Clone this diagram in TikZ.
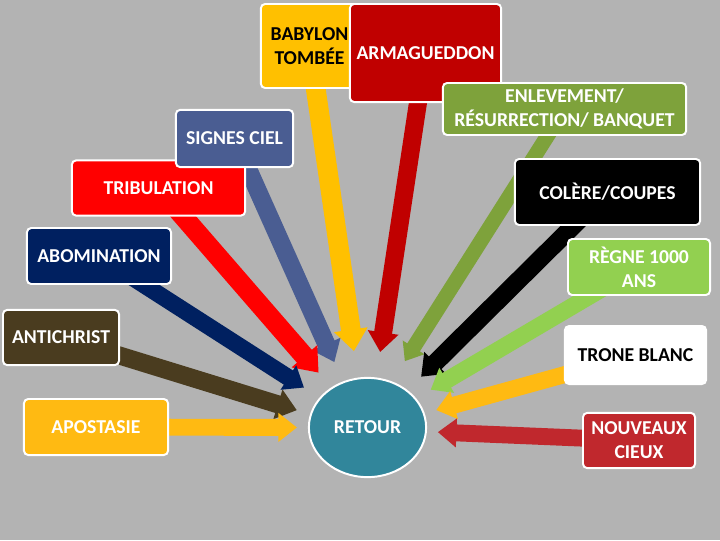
\documentclass[tikz,border=0pt]{standalone}
\usepackage{fontspec}
\setmainfont{Carlito}
\definecolor{fond}{HTML}{B3B3B3}
\definecolor{jaune}{HTML}{FFC000}
\definecolor{jauneor}{HTML}{FFBA12}
\definecolor{rougefonce}{HTML}{C00000}
\definecolor{rougevif}{HTML}{FF0000}
\definecolor{rougebrique}{HTML}{C0282D}
\definecolor{vertolive}{HTML}{7EA23B}
\definecolor{vertclair}{HTML}{92D050}
\definecolor{ardoise}{HTML}{4A5D92}
\definecolor{marine}{HTML}{002060}
\definecolor{brun}{HTML}{4A3C1F}
\definecolor{sarcelle}{HTML}{31869B}
\usetikzlibrary{arrows.meta, shapes.geometric}
\pgfdeclarelayer{bg}
\pgfdeclarelayer{fleches}
\pgfsetlayers{bg,fleches,main}
\tikzset{
  boite/.style={draw=white, line width=1.4pt, rounded corners=3pt, text=white,
    font=\bfseries\fontsize{14}{17}\selectfont, align=center, inner sep=2pt},
  fleche/.style={line width=#1, -{Triangle[length=0pt 1.1, width=0pt 1.65]}}
}

\begin{document}
\begin{tikzpicture}[x=0.025cm, y=-0.025cm]
  \useasboundingbox (0,0) rectangle (720,540);
  \begin{pgfonlayer}{bg}
    \fill[fond] (0,0) rectangle (720,540);
  \end{pgfonlayer}

  % boxes
  \node[boite, fill=jaune, text=black, minimum width=2.43cm, minimum height=2.1cm] (babylon) at (309.5,46) {BABYLON\\TOMBÉE};
  \node[boite, fill=rougefonce, minimum width=3.78cm, minimum height=2.45cm] (armag) at (425.5,53) {ARMAGUEDDON};
  \node[boite, fill=vertolive, minimum width=6.08cm, minimum height=1.3cm] (enlev) at (564.5,109) {ENLEVEMENT/\\RÉSURRECTION/ BANQUET};
  \node[boite, fill=rougevif, minimum width=4.33cm, minimum height=1.38cm] (tribul) at (158.5,188) {TRIBULATION};
  \node[boite, fill=ardoise, minimum width=2.93cm, minimum height=1.43cm] (signes) at (234.5,138.5) {SIGNES CIEL};
  \node[boite, fill=marine, minimum width=3.6cm, minimum height=1.4cm] (abomin) at (99,256) {ABOMINATION};
  \node[boite, fill=brun, minimum width=2.9cm, minimum height=1.38cm] (antichrist) at (61,337.5) {ANTICHRIST};
  \node[boite, fill=jauneor, minimum width=3.6cm, minimum height=1.4cm] (apostasie) at (96,427) {APOSTASIE};
  \node[boite, fill=black, minimum width=4.63cm, minimum height=1.65cm] (colere) at (607.5,192) {COLÈRE/COUPES};
  \node[boite, fill=vertclair, minimum width=3.55cm, minimum height=1.4cm] (regne) at (639,267) {RÈGNE 1000\\ANS};
  \node[boite, fill=white, text=black, minimum width=3.53cm, minimum height=1.45cm] (trone) at (635.5,355) {TRONE BLANC};
  \node[boite, fill=rougebrique, minimum width=2.8cm, minimum height=1.38cm] (nouveaux) at (639,440.5) {NOUVEAUX\\CIEUX};
  \node[boite, ellipse, fill=sarcelle, minimum width=2.93cm, minimum height=2.48cm] (retour) at (367.5,427.5) {RETOUR};

  % arrows towards RETOUR
  \begin{pgfonlayer}{fleches}
    \foreach \src/\ang/\sh/\lw/\col in {
      babylon/101/19/14/jaune, armag/80/18.3/12.8/rougefonce,
      signes/118/15/12.8/ardoise, tribul/132/13.8/14/rougevif,
      abomin/148/13.1/12/marine, antichrist/167/9.8/12.8/brun,
      apostasie/180/7.8/12/jauneor, enlev/62/17/10.6/vertolive,
      colere/43/13.5/12.8/black, regne/31/12/12/vertclair,
      trone/14/8.5/12/jauneor, nouveaux/356/7.8/12/rougebrique}
      \draw[fleche=\lw pt, color=\col, shorten >=\sh pt] (\src.center) -- (retour.\ang);
  \end{pgfonlayer}
\end{tikzpicture}
\end{document}
